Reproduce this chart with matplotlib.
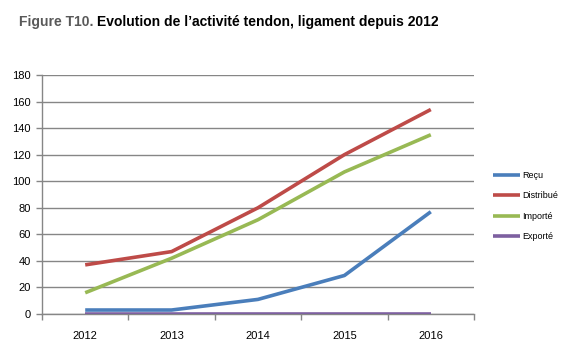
import matplotlib
matplotlib.use("Agg")
import matplotlib.pyplot as plt
from matplotlib.transforms import offset_copy

years = ["2012", "2013", "2014", "2015", "2016"]
recu = [3, 3, 11, 29, 77]
distribue = [37, 47, 80, 120, 154]
importe = [16, 42, 71, 107, 135]
exporte = [0, 0, 0, 0, 0]
series_names = ["Reçu", "Distribué", "Importé", "Exporté"]
colors = ["#4a7ebb", "#be4b48", "#98b954", "#7d60a0"]

plt.rcParams['font.family'] = ['Liberation Sans', 'DejaVu Sans']

fig = plt.figure(figsize=(5.75, 3.51), dpi=100)
ax = fig.add_axes([42/575, 1-314/351, (474-42)/575, (314-75)/351])

x = list(range(len(years)))
for vals, name, c in zip([recu, distribue, importe, exporte], series_names, colors):
    ax.plot(x, vals, color=c, lw=2.6, label=name, solid_capstyle='butt', zorder=3)

ax.set_xlim(-0.5, 4.5)
ax.set_ylim(0, 180)
ax.set_yticks(range(0, 181, 20))
ax.set_xticks(x)
ax.set_xticklabels(years)
ax.set_xticks([i + 0.5 for i in range(-1, 5)], minor=True)
ax.tick_params(axis='x', which='major', length=0, pad=12, labelsize=8)
ax.tick_params(axis='x', which='minor', length=4, color='#868686', width=1)
ax.tick_params(axis='y', length=4, color='#868686', width=1, labelsize=8, pad=4)
ax.yaxis.grid(True, color='#868686', lw=1)
ax.set_axisbelow(True)
for s in ['top', 'right']:
    ax.spines[s].set_visible(False)
for s in ['left', 'bottom']:
    ax.spines[s].set_color('#868686')
    ax.spines[s].set_linewidth(1)

leg = fig.legend(loc='upper left', bbox_to_anchor=(485/575, 1-163/351), frameon=False,
                 fontsize=6.5, handlelength=3.0, handletextpad=0.2, labelspacing=1.25)

t1 = fig.text(19/575, 1-22/351, "Figure T10. ", fontsize=10, fontweight='bold', color='#595959', va='center', ha='left')
fig.canvas.draw()
bb = t1.get_window_extent()
fig.text(bb.x1 / fig.bbox.width, 1-22/351, "Evolution de l’activité tendon, ligament depuis 2012", fontsize=10, fontweight='bold', color='black', va='center', ha='left')

fig.savefig("out.png", dpi=100)
